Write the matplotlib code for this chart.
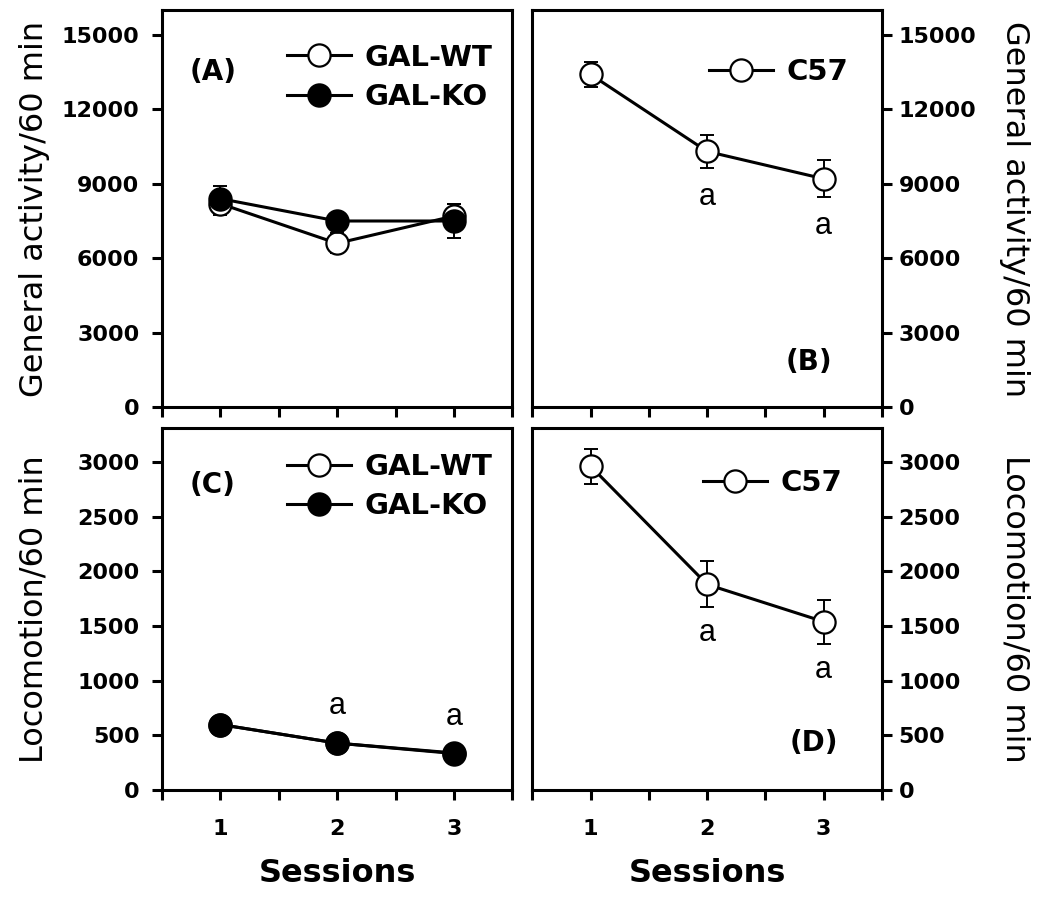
import numpy as np
import matplotlib
matplotlib.use("Agg")
from matplotlib import pyplot as plt

# ------------------ data ------------------ #
sessions = [1, 2, 3]

ga_wt = [8200, 6600, 7700]
ga_wt_err = [450, 400, 500]
ga_ko = [8400, 7500, 7500]
ga_ko_err = [500, 300, 700]
ga_c57 = [13400, 10300, 9200]
ga_c57_err = [500, 650, 750]

loc_wt = [600, 430, 340]
loc_wt_err = [30, 30, 30]
loc_ko = [600, 430, 335]
loc_ko_err = [30, 30, 30]
loc_c57 = [2960, 1880, 1540]
loc_c57_err = [160, 210, 200]

ga_yticks = [0, 3000, 6000, 9000, 12000, 15000]
loc_yticks = [0, 500, 1000, 1500, 2000, 2500, 3000]
x_ticks = [0.5, 1, 1.5, 2, 2.5, 3, 3.5]
x_ticklabels = ['', '1', '', '2', '', '3', '']

# sessions marked as significant ("a")
sig_b = [2, 3]
sig_c = [2, 3]
sig_d = [2, 3]

plt.rcParams['font.family'] = 'DejaVu Sans'
lw = 2.2
ms = 16
tick_fs = 16
label_fs = 23
leg_prop = {'size': 21, 'weight': 'bold'}


def style_axes(ax, yticks, ylim, side='left', xlabels=False):
    for sp in ['top', 'right', 'bottom', 'left']:
        ax.spines[sp].set_linewidth(lw)
    ax.set_xlim(0.5, 3.5)
    ax.set_ylim(0, ylim)
    ax.set_xticks(x_ticks)
    if xlabels:
        ax.set_xticklabels(x_ticklabels, fontsize=tick_fs, fontweight='bold')
    else:
        ax.set_xticklabels([])
    ax.set_yticks(yticks)
    ax.set_yticklabels([str(t) for t in yticks], fontsize=tick_fs, fontweight='bold')
    ax.tick_params(axis='x', direction='out', length=7, width=lw, pad=14)
    if side == 'right':
        ax.yaxis.tick_right()
        ax.yaxis.set_label_position('right')
        ax.tick_params(axis='y', direction='out', length=7, width=lw, pad=5)
    else:
        ax.tick_params(axis='y', direction='out', length=7, width=lw, pad=9)


def plot_series(ax, y, err, face, label):
    ax.errorbar(sessions, y, yerr=err, fmt='none', ecolor='k', elinewidth=1.4,
                capsize=5, capthick=1.4, zorder=2)
    ax.plot(sessions, y, color='k', linewidth=lw, marker='o', markersize=ms,
            markerfacecolor=face, markeredgecolor='k', markeredgewidth=1.6,
            label=label, zorder=3)


def add_legend(ax, x, y, spacing=0.4):
    ax.legend(loc='center right', bbox_to_anchor=(x, y), bbox_transform=ax.transAxes,
              frameon=False, prop=leg_prop, handlelength=2.2, handletextpad=0.45,
              labelspacing=spacing, borderaxespad=0, borderpad=0, numpoints=1)


def mark_sig(ax, xs, ys, offset):
    for x in xs:
        i = sessions.index(x)
        ax.text(x, ys[i] + offset, 'a', ha='center', va='center',
                fontsize=22, family='Liberation Sans')


def mark_sig_below(ax, xs, ys, errs, offset):
    for x in xs:
        i = sessions.index(x)
        ax.text(x, ys[i] - errs[i] - offset, 'a', ha='center', va='center',
                fontsize=22, family='Liberation Sans')


fig = plt.figure(figsize=(10.5, 9.01), dpi=100)
axA = fig.add_axes([0.154, 0.548, 0.334, 0.441])
axB = fig.add_axes([0.507, 0.548, 0.333, 0.441])
axC = fig.add_axes([0.154, 0.123, 0.334, 0.402])
axD = fig.add_axes([0.507, 0.123, 0.333, 0.402])

# ---- (A) ----
plot_series(axA, ga_wt, ga_wt_err, 'white', 'GAL-WT')
plot_series(axA, ga_ko, ga_ko_err, 'black', 'GAL-KO')
style_axes(axA, ga_yticks, 16000)
axA.set_ylabel('General activity/60 min', fontsize=label_fs, va='center')
axA.yaxis.set_label_coords(-0.363, 0.5)
add_legend(axA, 0.943, 0.83)
axA.text(0.08, 0.844, '(A)', transform=axA.transAxes, fontsize=20,
         fontweight='bold', va='center')

# ---- (B) ----
plot_series(axB, ga_c57, ga_c57_err, 'white', 'C57')
style_axes(axB, ga_yticks, 16000, side='right')
axB.set_ylabel('General activity/60 min', fontsize=label_fs, rotation=270, va='center')
axB.yaxis.set_label_coords(1.38, 0.5)
add_legend(axB, 0.903, 0.844)
mark_sig_below(axB, sig_b, ga_c57, ga_c57_err, 1170)
axB.text(0.723, 0.113, '(B)', transform=axB.transAxes, fontsize=20,
         fontweight='bold', va='center')

# ---- (C) ----
plot_series(axC, loc_wt, loc_wt_err, 'white', 'GAL-WT')
plot_series(axC, loc_ko, loc_ko_err, 'black', 'GAL-KO')
style_axes(axC, loc_yticks, 3310, xlabels=True)
axC.set_ylabel('Locomotion/60 min', fontsize=label_fs, va='center')
axC.yaxis.set_label_coords(-0.363, 0.5)
axC.set_xlabel('Sessions', fontsize=label_fs, fontweight='bold', va='center')
axC.xaxis.set_label_coords(0.5, -0.229)
add_legend(axC, 0.943, 0.838)
mark_sig(axC, sig_c, loc_ko, 335)
axC.text(0.08, 0.843, '(C)', transform=axC.transAxes, fontsize=20,
         fontweight='bold', va='center')

# ---- (D) ----
plot_series(axD, loc_c57, loc_c57_err, 'white', 'C57')
style_axes(axD, loc_yticks, 3310, side='right', xlabels=True)
axD.set_ylabel('Locomotion/60 min', fontsize=label_fs, rotation=270, va='center')
axD.yaxis.set_label_coords(1.38, 0.5)
axD.set_xlabel('Sessions', fontsize=label_fs, fontweight='bold', va='center')
axD.xaxis.set_label_coords(0.5, -0.229)
add_legend(axD, 0.886, 0.848)
mark_sig(axD, sig_d, loc_c57, -440)
axD.text(0.737, 0.13, '(D)', transform=axD.transAxes, fontsize=20,
         fontweight='bold', va='center')

plt.savefig('out.png', dpi=100, facecolor='w')
plt.close('all')
